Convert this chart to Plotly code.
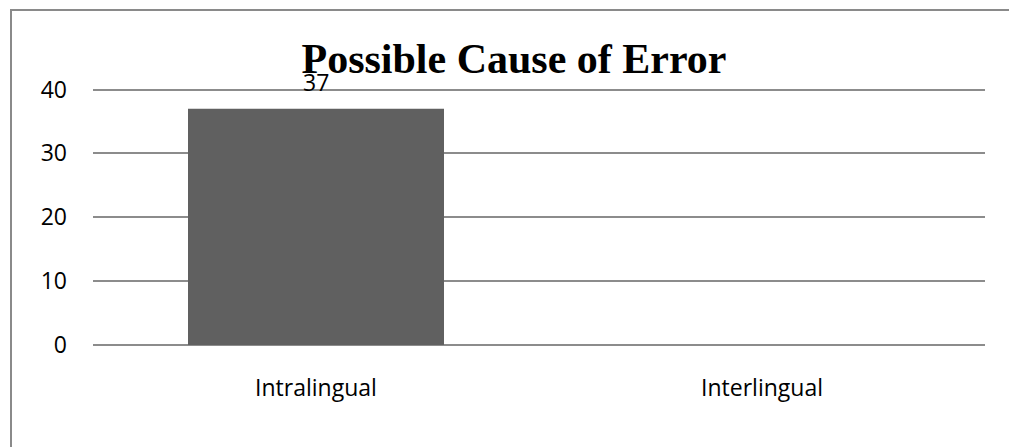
import plotly.graph_objects as go

# Data
categories = ["Intralingual", "Interlingual"]
counts = [37, 0]
y_ticks = [0, 10, 20, 30, 40]
y_max = 40.4  # a bit above 40 so the top gridline is drawn

W, H = 1009, 447
# plot-area edges in pixels
L, R, T, B = 93, 985, 87, 345

fig = go.Figure()
fig.add_trace(go.Bar(
    x=categories,
    y=counts,
    width=0.574,
    marker=dict(color="#606060", line=dict(width=0)),
    hoverinfo="x+y",
))

# value label above the first bar
fig.add_annotation(
    x=categories[0], y=counts[0], text=str(counts[0]),
    showarrow=False, yanchor="middle", yshift=27,
    font=dict(family="Open Sans, sans-serif", size=23, color="#000000"),
)

# outer chart frame (partially cropped on the right and bottom)
pw, ph = R - L, B - T
fig.add_shape(
    type="rect", xref="paper", yref="paper",
    x0=(11 - L) / pw, x1=(W + 20 - L) / pw,
    y0=(B - (H + 20)) / ph, y1=(B - 10) / ph,
    line=dict(color="#8a8a8a", width=2), fillcolor="rgba(0,0,0,0)", layer="below",
)

fig.update_layout(
    width=W, height=H,
    margin=dict(l=L, r=W - R, t=T, b=H - B, pad=0),
    paper_bgcolor="white", plot_bgcolor="white",
    showlegend=False,
    title=dict(
        text="<b>Possible Cause of Error</b>",
        font=dict(family="Liberation Serif, Times New Roman, serif", size=42, color="#000000"),
        x=514 / W, xanchor="center",
        y=1 - 58 / H, yanchor="middle",
    ),
    bargap=0.426,
    font=dict(family="Open Sans, sans-serif", size=23, color="#000000"),
)
fig.update_xaxes(
    showgrid=False, showline=False, zeroline=False,
    ticks="outside", ticklen=0, tickcolor="white",
    ticklabelstandoff=22,
    tickfont=dict(size=23),
)
fig.update_yaxes(
    range=[0, y_max], tickvals=y_ticks,
    showgrid=True, gridcolor="#8c8c8c", gridwidth=2,
    zeroline=True, zerolinecolor="#8c8c8c", zerolinewidth=2,
    showline=False, ticks="", ticklabelstandoff=25,
    tickfont=dict(size=23),
)

fig.write_html("out.html")
